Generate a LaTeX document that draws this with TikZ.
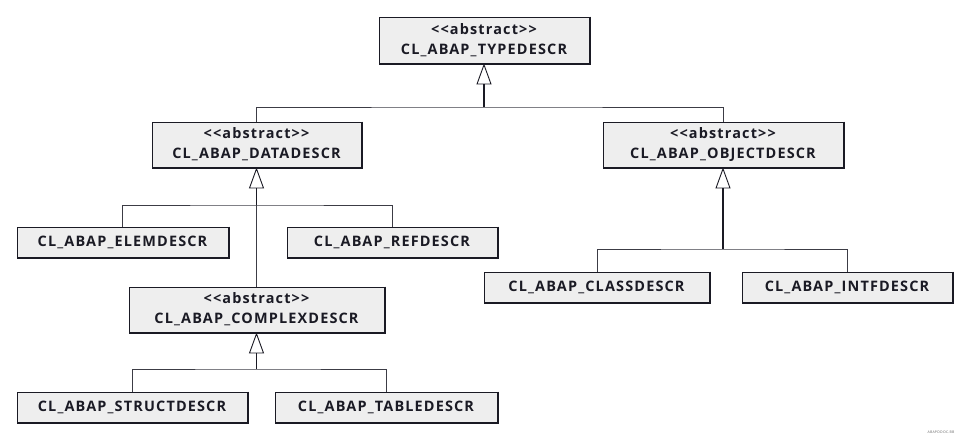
\documentclass[tikz,border=0pt]{standalone}
\usepackage{fontspec}
\setmainfont{Open Sans}[Ligatures=NoCommon, LetterSpace=8]
\usetikzlibrary{arrows.meta}
\definecolor{boxfill}{HTML}{EEEEEE}
\definecolor{ink}{HTML}{1A1A24}
\newcommand{\abst}{{<}{<}abstract{>}{>}}
\tikzset{
  cls/.style={draw=ink, fill=boxfill, line width=0.9bp, inner sep=0pt, align=center,
    font=\fontsize{14.5}{20}\selectfont\bfseries, text=ink},
  link/.style={draw=ink!85, line width=0.8bp},
  stem/.style={draw=ink, line width=1.5bp, -{Triangle[open, length=21bp, width=15bp, line width=0.9bp]}},
}
\newcommand{\clsbox}[6]{% name, x1, y1, x2, y2, text
  \node[cls, minimum width={(#4-#2)*1bp}, minimum height={(#5-#3)*1bp}] (#1) at ({(#2+#4)/2},{(#3+#5)/2}) {#6};
  \draw[ink, line width=1.4bp] ([xshift=0.6bp]#1.north east) -- ([xshift=0.6bp,yshift=-0.6bp]#1.south east) -- ([yshift=-0.6bp]#1.south west);
}
\begin{document}
\begin{tikzpicture}[x=1bp,y=-1bp]
\useasboundingbox (0,0) rectangle (963,437);
\clsbox{type}{379}{17}{589}{63}{\abst\\CL\_ABAP\_TYPEDESCR}
\clsbox{data}{152}{122}{361}{167}{\abst\\CL\_ABAP\_DATADESCR}
\clsbox{obj}{603}{122}{843}{167}{\abst\\CL\_ABAP\_OBJECTDESCR}
\clsbox{elem}{17}{227}{228}{257}{CL\_ABAP\_ELEMDESCR}
\clsbox{ref}{287}{227}{497}{257}{CL\_ABAP\_REFDESCR}
\clsbox{complex}{129}{287}{384}{332}{\abst\\CL\_ABAP\_COMPLEXDESCR}
\clsbox{struct}{17}{392}{247}{422}{CL\_ABAP\_STRUCTDESCR}
\clsbox{table}{275}{392}{497}{422}{CL\_ABAP\_TABLEDESCR}
\clsbox{class}{484}{272}{709}{302}{CL\_ABAP\_CLASSDESCR}
\clsbox{intf}{742}{272}{952}{302}{CL\_ABAP\_INTFDESCR}

\coordinate (j1) at (type.south |- 0,107);
\coordinate (j2) at (data.south |- 0,205);
\coordinate (j3) at (complex.south |- 0,369);
\coordinate (j4) at (obj.south |- 0,249);

\draw[link] (data.north) |- (j1) -| (obj.north);
\draw[stem] (j1) -- (type.south);

\draw[link] (elem.north) |- (j2) -| (ref.north);
\draw[link] (complex.north) -- (j2);
\draw[stem] (j2) -- (data.south);

\draw[link] (struct.north -| 132,0) |- (j3) -| (table.north -| 386,0);
\draw[stem] (j3) -- (complex.south);

\draw[link] (class.north -| 597,0) |- (j4) -| (intf.north -| 847,0);
\draw[stem] (j4) -- (obj.south);

\node[font=\fontsize{3.5}{4}\selectfont, text=black!60, anchor=east] (tag) at (958,432) {ABAPDDOC.BB};
\end{tikzpicture}
\end{document}
